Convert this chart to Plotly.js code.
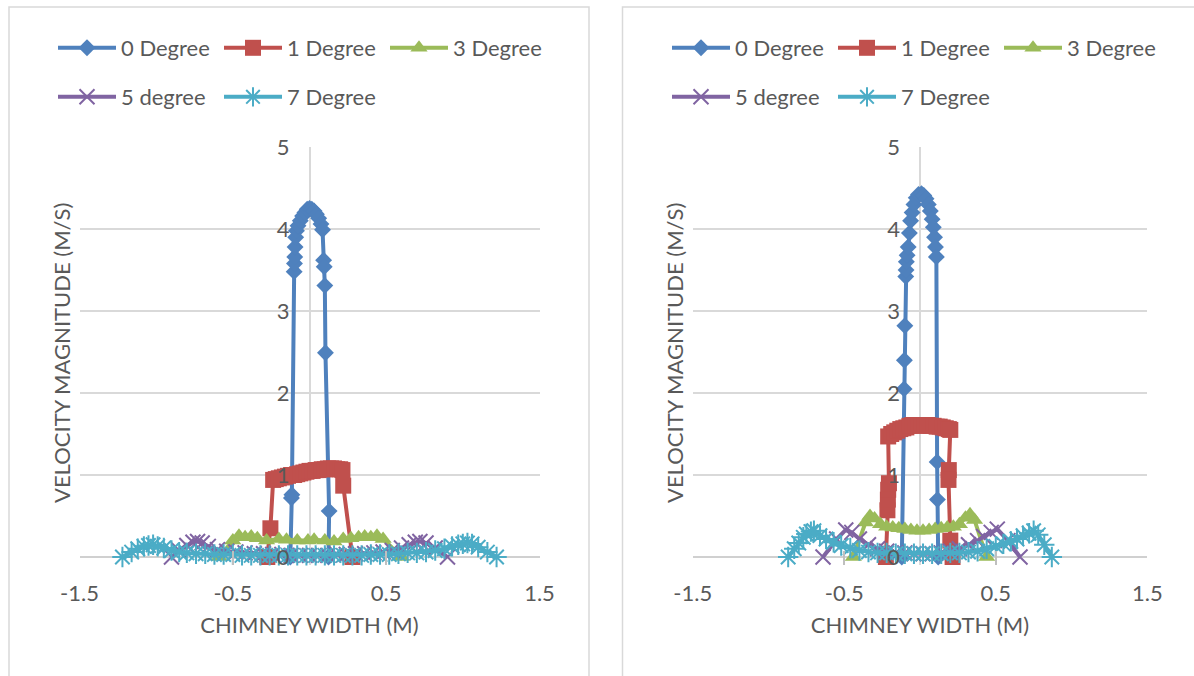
<!DOCTYPE html>
<html>
<head>
<meta charset="utf-8">
<script src="https://cdn.plot.ly/plotly-3.0.1.min.js"></script>
<style>
html,body{margin:0;padding:0;background:#fff;}
#chart{width:1194px;height:676px;}
</style>
</head>
<body>
<div id="chart"></div>
<script>
// ---------- DATA ----------
var seriesNames = ['0 Degree', '1 Degree', '3 Degree', '5 degree', '7 Degree'];
var xTickVals = [-1.5, -0.5, 0.5, 1.5];
var xTickText = ['-1.5', '-0.5', '0.5', '1.5'];
var yTickVals = [0, 1, 2, 3, 4, 5];
var yTickText = ['0', '1', '2', '3', '4', '5'];
var xAxisTitle = 'CHIMNEY WIDTH (M)';
var yAxisTitle = 'VELOCITY MAGNITUDE (M/S)';

// Left chart
var left0x = [-0.125, -0.118, -0.115, -0.1, -0.098, -0.096, -0.094, -0.09, -0.085, -0.075, -0.06, -0.045, -0.03, -0.015, 0.0, 0.015, 0.03, 0.045, 0.06, 0.075, 0.085, 0.092, 0.096, 0.1, 0.104, 0.128, 0.124];
var left0y = [0.0, 0.72, 0.76, 3.48, 3.58, 3.66, 3.78, 3.9, 3.98, 4.04, 4.1, 4.16, 4.2, 4.24, 4.25, 4.24, 4.22, 4.18, 4.13, 4.06, 3.99, 3.62, 3.54, 3.31, 2.49, 0.56, 0.0];

var left1x = [-0.275, -0.255, -0.237, -0.22, -0.2, -0.18, -0.16, -0.14, -0.12, -0.1, -0.08, -0.06, -0.04, -0.02, 0.0, 0.02, 0.04, 0.06, 0.08, 0.1, 0.12, 0.14, 0.16, 0.18, 0.2, 0.215, 0.22, 0.28];
var left1y = [0.0, 0.35, 0.94, 0.95, 0.96, 0.97, 0.98, 0.99, 1.0, 1.0, 1.01, 1.02, 1.03, 1.04, 1.05, 1.05, 1.06, 1.06, 1.07, 1.07, 1.08, 1.08, 1.08, 1.07, 1.07, 1.06, 0.87, 0.0];

var left3x = [-0.59, -0.5, -0.46, -0.42, -0.38, -0.34, -0.28, -0.2, -0.15, -0.08, -0.01, 0.03, 0.1, 0.16, 0.22, 0.27, 0.32, 0.36, 0.4, 0.44, 0.48, 0.6];
var left3y = [0.0, 0.2, 0.26, 0.24, 0.25, 0.23, 0.2, 0.22, 0.21, 0.2, 0.2, 0.21, 0.2, 0.19, 0.22, 0.23, 0.24, 0.25, 0.24, 0.26, 0.22, 0.0];

var left5x = [-0.9, -0.85, -0.8, -0.76, -0.73, -0.7, -0.66, -0.6, -0.54, -0.48, -0.42, -0.36, -0.3, -0.24, -0.18, -0.12, -0.06, 0.0, 0.06, 0.12, 0.18, 0.24, 0.3, 0.36, 0.42, 0.48, 0.54, 0.6, 0.65, 0.69, 0.72, 0.76, 0.82, 0.9];
var left5y = [0.0, 0.08, 0.14, 0.18, 0.19, 0.17, 0.13, 0.09, 0.07, 0.06, 0.05, 0.04, 0.04, 0.03, 0.03, 0.02, 0.02, 0.02, 0.02, 0.02, 0.03, 0.03, 0.04, 0.04, 0.05, 0.06, 0.08, 0.11, 0.15, 0.18, 0.19, 0.17, 0.11, 0.0];

var left7x = [-1.22, -1.16, -1.12, -1.08, -1.05, -1.02, -0.99, -0.95, -0.9, -0.85, -0.8, -0.74, -0.68, -0.62, -0.56, -0.5, -0.44, -0.38, -0.32, -0.26, -0.2, -0.14, -0.08, -0.02, 0.04, 0.1, 0.16, 0.22, 0.28, 0.34, 0.4, 0.46, 0.52, 0.58, 0.64, 0.7, 0.76, 0.82, 0.88, 0.93, 0.97, 1.0, 1.03, 1.06, 1.1, 1.16, 1.22];
var left7y = [0.0, 0.06, 0.1, 0.13, 0.14, 0.15, 0.13, 0.11, 0.08, 0.06, 0.05, 0.04, 0.04, 0.03, 0.03, 0.03, 0.02, 0.02, 0.02, 0.02, 0.02, 0.02, 0.02, 0.02, 0.02, 0.02, 0.02, 0.02, 0.02, 0.02, 0.03, 0.03, 0.03, 0.04, 0.05, 0.05, 0.06, 0.08, 0.1, 0.13, 0.15, 0.16, 0.17, 0.16, 0.12, 0.06, 0.0];

// Right chart
var right0x = [-0.12, -0.105, -0.103, -0.1, -0.094, -0.092, -0.09, -0.085, -0.078, -0.07, -0.062, -0.052, -0.04, -0.025, -0.01, 0.01, 0.025, 0.04, 0.055, 0.068, 0.08, 0.088, 0.096, 0.102, 0.108, 0.113, 0.115, 0.12];
var right0y = [0.0, 2.05, 2.4, 2.82, 3.42, 3.5, 3.6, 3.68, 3.78, 3.95, 4.1, 4.2, 4.3, 4.38, 4.42, 4.43, 4.41, 4.37, 4.3, 4.22, 4.12, 4.02, 3.9, 3.78, 3.66, 1.16, 0.7, 0.0];

var right1x = [-0.225, -0.215, -0.212, -0.21, -0.205, -0.21, -0.19, -0.17, -0.15, -0.13, -0.11, -0.09, -0.07, -0.05, -0.03, -0.01, 0.01, 0.03, 0.05, 0.07, 0.09, 0.11, 0.13, 0.15, 0.17, 0.19, 0.2, 0.19, 0.188, 0.2, 0.215];
var right1y = [0.0, 0.57, 0.7, 0.82, 0.9, 1.47, 1.5, 1.52, 1.54, 1.56, 1.57, 1.58, 1.6, 1.61, 1.61, 1.6, 1.6, 1.61, 1.61, 1.6, 1.6, 1.59, 1.59, 1.58, 1.57, 1.56, 1.55, 1.06, 0.94, 0.2, 0.0];

var right3x = [-0.44, -0.36, -0.33, -0.3, -0.26, -0.22, -0.18, -0.14, -0.1, -0.06, -0.02, 0.02, 0.06, 0.1, 0.14, 0.18, 0.22, 0.26, 0.3, 0.33, 0.36, 0.44];
var right3y = [0.0, 0.42, 0.5, 0.47, 0.4, 0.37, 0.36, 0.35, 0.34, 0.33, 0.32, 0.32, 0.33, 0.34, 0.35, 0.36, 0.37, 0.4, 0.48, 0.52, 0.45, 0.0];

var right5x = [-0.64, -0.55, -0.49, -0.45, -0.4, -0.34, -0.28, -0.22, -0.16, -0.1, -0.04, 0.02, 0.08, 0.14, 0.2, 0.26, 0.32, 0.38, 0.42, 0.47, 0.51, 0.58, 0.66];
var right5y = [0.0, 0.22, 0.33, 0.3, 0.22, 0.15, 0.1, 0.07, 0.05, 0.05, 0.04, 0.04, 0.04, 0.05, 0.07, 0.1, 0.15, 0.2, 0.25, 0.3, 0.34, 0.2, 0.0];

var right7x = [-0.87, -0.83, -0.8, -0.77, -0.75, -0.72, -0.7, -0.66, -0.62, -0.57, -0.52, -0.46, -0.4, -0.34, -0.28, -0.22, -0.16, -0.1, -0.04, 0.02, 0.08, 0.14, 0.2, 0.26, 0.32, 0.38, 0.44, 0.5, 0.55, 0.6, 0.64, 0.68, 0.72, 0.75, 0.78, 0.82, 0.87];
var right7y = [0.0, 0.1, 0.17, 0.24, 0.28, 0.31, 0.32, 0.26, 0.22, 0.18, 0.14, 0.11, 0.08, 0.06, 0.05, 0.05, 0.04, 0.04, 0.04, 0.04, 0.04, 0.04, 0.05, 0.05, 0.06, 0.07, 0.1, 0.13, 0.16, 0.19, 0.22, 0.26, 0.29, 0.32, 0.27, 0.15, 0.0];

// ---------- STYLE ----------
var colors = ['#4F81BD', '#C0504D', '#9BBB59', '#8064A2', '#4BACC6'];
var symbols = ['diamond', 'square', 'triangle-up', 'x-thin', 'asterisk'];
var msizes = [13, 16, 15, 15, 17];
var FONT = 'Lato, "Open Sans", sans-serif';
var TXT = '#595959';
var W = 1194, H = 676;

function mk(i, x, y, xa, ya, legendId) {
  var lineSym = (i >= 3);
  var marker = {symbol: symbols[i], size: msizes[i], color: colors[i]};
  if (lineSym) { marker.line = {width: 2, color: colors[i]}; }
  else { marker.line = {width: 0}; }
  return {
    type: 'scatter', mode: 'lines+markers', name: seriesNames[i],
    x: x, y: y, xaxis: xa, yaxis: ya, legend: legendId,
    line: {color: colors[i], width: 4},
    marker: marker, cliponaxis: false, showlegend: true
  };
}

var data = [
  mk(0, left0x, left0y, 'x', 'y', 'legend'),
  mk(1, left1x, left1y, 'x', 'y', 'legend'),
  mk(2, left3x, left3y, 'x', 'y', 'legend'),
  mk(3, left5x, left5y, 'x', 'y', 'legend2'),
  mk(4, left7x, left7y, 'x', 'y', 'legend2'),
  mk(0, right0x, right0y, 'x2', 'y2', 'legend3'),
  mk(1, right1x, right1y, 'x2', 'y2', 'legend3'),
  mk(2, right3x, right3y, 'x2', 'y2', 'legend3'),
  mk(3, right5x, right5y, 'x2', 'y2', 'legend4'),
  mk(4, right7x, right7y, 'x2', 'y2', 'legend4')
];

// geometry (pixels -> paper)
var yBottomPx = 565.2, yTopPx = 147;
var yDom = [(H - yBottomPx) / H, (H - yTopPx) / H];
var xDomL = [79.5 / W, 539.5 / W];
var xDomR = [692.7 / W, 1147.3 / W];

function xAxis(dom, anchor) {
  return {
    domain: dom, range: [-1.5, 1.5], anchor: anchor, fixedrange: true,
    tickmode: 'array', tickvals: xTickVals, ticktext: xTickText,
    ticks: 'inside', ticklen: 14, tickwidth: 1.5, tickcolor: '#BFBFBF',
    ticklabelstandoff: 13,
    showgrid: false, showline: false,
    zeroline: true, zerolinecolor: '#D9D9D9', zerolinewidth: 2,
    tickfont: {family: FONT, size: 22, color: TXT},
    title: {text: xAxisTitle, font: {family: FONT, size: 22, color: TXT}, standoff: 12}
  };
}
function yAxis(pos) {
  return {
    domain: yDom, range: [-0.1, 5], anchor: 'free', position: pos, fixedrange: true,
    tickmode: 'array', tickvals: yTickVals, ticktext: yTickText,
    ticks: '', ticklabelstandoff: 20,
    showgrid: true, gridcolor: '#D9D9D9', gridwidth: 1.5,
    showline: false, zeroline: true, zerolinecolor: '#D0D0D0', zerolinewidth: 1.5,
    tickfont: {family: FONT, size: 22, color: TXT}
  };
}
function legendAt(xpx, ypx) {
  return {
    orientation: 'h', x: xpx / W, y: (H - ypx) / H, xanchor: 'left', yanchor: 'middle',
    font: {family: FONT, size: 22, color: TXT}, bgcolor: 'rgba(0,0,0,0)',
    borderwidth: 0, itemwidth: 58, entrywidth: 93, entrywidthmode: 'pixels',
    itemclick: false, itemdoubleclick: false
  };
}

var layout = {
  width: W, height: H,
  margin: {l: 0, r: 0, t: 0, b: 0},
  paper_bgcolor: '#FFFFFF', plot_bgcolor: 'rgba(0,0,0,0)',
  font: {family: FONT, color: TXT},
  xaxis: xAxis(xDomL, 'y'),
  yaxis: yAxis((xDomL[0] + xDomL[1]) / 2),
  xaxis2: xAxis(xDomR, 'y2'),
  yaxis2: yAxis((xDomR[0] + xDomR[1]) / 2),
  legend: legendAt(53, 48),
  legend2: legendAt(53, 97),
  legend3: legendAt(667, 48),
  legend4: legendAt(667, 97),
  shapes: [
    {type: 'rect', xref: 'paper', yref: 'paper', x0: 9 / W, x1: 589 / W, y0: -0.02, y1: (H - 7) / H,
     line: {color: '#D9D9D9', width: 1.5}, fillcolor: 'rgba(0,0,0,0)', layer: 'below'},
    {type: 'rect', xref: 'paper', yref: 'paper', x0: 622.5 / W, x1: 1.02, y0: -0.02, y1: (H - 7) / H,
     line: {color: '#D9D9D9', width: 1.5}, fillcolor: 'rgba(0,0,0,0)', layer: 'below'}
  ],
  annotations: [
    {text: yAxisTitle, xref: 'paper', yref: 'paper', x: 61 / W, y: (H - 353) / H,
     textangle: -90, showarrow: false, xanchor: 'center', yanchor: 'middle',
     font: {family: FONT, size: 22, color: TXT}},
    {text: yAxisTitle, xref: 'paper', yref: 'paper', x: 674 / W, y: (H - 353) / H,
     textangle: -90, showarrow: false, xanchor: 'center', yanchor: 'middle',
     font: {family: FONT, size: 22, color: TXT}}
  ]
};

Plotly.newPlot('chart', data, layout, {staticPlot: true, displayModeBar: false});
</script>
</body>
</html>
